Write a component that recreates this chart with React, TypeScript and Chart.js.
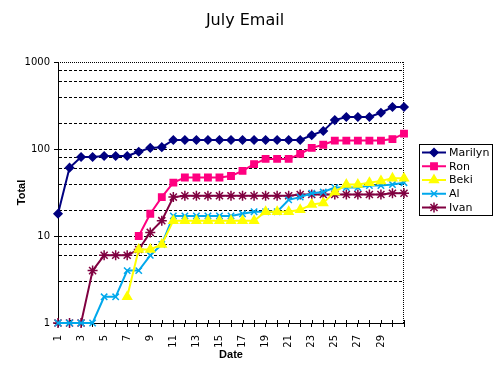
import React, { useEffect, useRef } from 'react';
import { Chart, registerables } from 'chart.js';
import { drawPoint } from 'chart.js/helpers';

Chart.register(...registerables);

const TITLE = 'July Email';
const X_TITLE = 'Date';
const Y_TITLE = 'Total';

const days = ['1','2','3','4','5','6','7','8','9','10','11','12','13','14','15','16','17','18','19','20','21','22','23','24','25','26','27','28','29','30','31'];

const marilyn = [18,61,81,81,83,83,83,93,103,105,127,127,127,127,127,127,127,127,127,127,127,127,144,161,215,233,233,233,261,304,304];
const ron = [null,null,null,null,null,null,null,10,18,28,41,47,47,47,47,49,56,67,77,77,77,88,103,112,125,125,125,125,125,130,150];
const beki = [null,null,null,null,null,null,2,7,7,8,15,15,15,15,15,15,15,15,19,19,19,20,23,24,32,39,39,41,43,46,46];
const al = [1,1,1,1,2,2,4,4,6,8,17,17,17,17,17,17,18,19,19,19,26,28,31,32,36,36,36,38,38,39,41];
const ivan = [1,1,1,4,6,6,6,7,11,15,28,29,29,29,29,29,29,29,29,29,29,30,30,30,30,30,30,30,30,31,31];

const Y_LABELS = [1, 10, 100, 1000];

const decor = {
  id: 'decor',
  beforeDatasetsDraw(chart: any) {
    const { ctx, chartArea: a } = chart;
    const ys = chart.scales.y;
    ctx.save();
    ctx.strokeStyle = '#000';
    ctx.lineWidth = 1;
    ctx.setLineDash([3, 2]);
    ctx.beginPath();
    ys.ticks.forEach((t: any) => {
      if (t.value <= 1 || t.value >= 1000) return;
      const y = Math.round(ys.getPixelForValue(t.value)) + 0.5;
      ctx.moveTo(a.left + 1, y);
      ctx.lineTo(a.right, y);
    });
    ctx.stroke();
    // dotted top/right frame
    ctx.setLineDash([1, 1]);
    ctx.beginPath();
    ctx.moveTo(a.left, Math.round(a.top) + 0.5);
    ctx.lineTo(a.right, Math.round(a.top) + 0.5);
    ctx.moveTo(Math.round(a.right) - 0.5, a.top);
    ctx.lineTo(Math.round(a.right) - 0.5, a.bottom);
    ctx.stroke();
    // tick marks crossing the x axis upward
    ctx.setLineDash([]);
    const xs = chart.scales.x;
    ctx.beginPath();
    for (let i = 0; i < xs.ticks.length; i++) {
      const x = Math.round(xs.getPixelForTick(i)) + 0.5;
      ctx.moveTo(x, a.bottom);
      ctx.lineTo(x, a.bottom - 3);
    }
    ctx.stroke();
    ctx.restore();
  },
  afterDraw(chart: any) {
    const { ctx } = chart;
    ctx.save();
    // title
    ctx.fillStyle = '#000';
    ctx.font = '16px "DejaVu Sans"';
    ctx.textAlign = 'center';
    ctx.textBaseline = 'middle';
    ctx.fillText(TITLE, 245, 21);
    // legend
    const lx = 419, ly = 144, lw = 73, lh = 71;
    ctx.fillStyle = '#fff';
    ctx.fillRect(lx, ly, lw, lh);
    ctx.strokeStyle = '#000';
    ctx.lineWidth = 1;
    ctx.strokeRect(lx + 0.5, ly + 0.5, lw, lh);
    ctx.font = '11px "DejaVu Sans"';
    ctx.textAlign = 'left';
    chart.data.datasets.forEach((ds: any, i: number) => {
      const y = ly + 8.5 + i * 13.75;
      ctx.strokeStyle = ds.borderColor;
      ctx.lineWidth = ds.borderWidth;
      ctx.beginPath();
      ctx.moveTo(422, y);
      ctx.lineTo(446, y);
      ctx.stroke();
      ctx.fillStyle = ds.pointBackgroundColor;
      ctx.strokeStyle = ds.pointBorderColor;
      ctx.lineWidth = ds.pointBorderWidth;
      drawPoint(ctx, { pointStyle: ds.pointStyle, radius: ds.pointRadius, rotation: 0, borderWidth: ds.pointBorderWidth }, 434, y);
      ctx.fillStyle = '#000';
      ctx.fillText(ds.label, 449, y + 0.5);
    });
    ctx.restore();
  },
};

function mk(label: string, data: (number | null)[], color: string, style: string, radius: number, fill: string) {
  return {
    label,
    data,
    borderColor: color,
    backgroundColor: color,
    borderWidth: 2,
    pointStyle: style,
    pointRadius: radius,
    pointBackgroundColor: fill,
    pointBorderColor: color,
    pointBorderWidth: 1.5,
    tension: 0,
    clip: false,
    spanGaps: false,
  };
}

export default function App() {
  const ref = useRef<HTMLCanvasElement>(null);
  useEffect(() => {
    if (!ref.current) return;
    Chart.defaults.font.family = '"DejaVu Sans"';
    Chart.defaults.color = '#000';
    const chart = new Chart(ref.current, {
      type: 'line',
      data: {
        labels: days,
        datasets: [
          mk('Marilyn', marilyn, '#000080', 'rectRot', 4, '#000080'),
          mk('Ron', ron, '#FF0080', 'rect', 4.5, '#FF0080'),
          mk('Beki', beki, '#FFFF00', 'triangle', 5, '#FFFF00'),
          mk('Al', al, '#00A8EC', 'crossRot', 4.5, '#00A8EC'),
          mk('Ivan', ivan, '#800040', 'star', 5, '#800040'),
        ] as any,
      },
      options: {
        animation: false,
        responsive: false,
        devicePixelRatio: 1,
        layout: { padding: { left: 0, right: 96, top: 62, bottom: 0 } },
        plugins: { legend: { display: false }, title: { display: false }, tooltip: { enabled: false } },
        scales: {
          x: {
            type: 'category',
            offset: false,
            afterFit: (s: any) => { s.height = 52; },
            grid: { drawOnChartArea: false, drawTicks: true, tickLength: 4, color: '#000' },
            border: { color: '#000', width: 1 },
            ticks: {
              autoSkip: false,
              maxRotation: 90,
              minRotation: 90,
              padding: 8,
              font: { size: 10 },
              callback: (_v: any, i: number) => (i % 2 === 0 && i < 30 ? days[i] : ''),
            },
            title: {
              display: true,
              text: X_TITLE,
              font: { family: '"Liberation Sans"', weight: 'bold', size: 11 },
              padding: { top: 0, bottom: 13 },
            },
          },
          y: {
            type: 'logarithmic',
            min: 1,
            max: 1000,
            afterFit: (s: any) => { s.width = 58; },
            grid: {
              drawOnChartArea: false,
              drawTicks: true,
              lineWidth: 1,
              tickLength: 4,
              color: '#000',
              tickColor: (c: any) => (c.tick && Y_LABELS.includes(c.tick.value) ? '#000' : 'rgba(0,0,0,0)'),
            },
            border: { color: '#000', width: 1 },
            ticks: {
              padding: 4,
              font: { size: 10 },
              callback: (v: any) => (Y_LABELS.includes(Number(v)) ? String(v) : ''),
            },
            title: {
              display: true,
              text: Y_TITLE,
              font: { family: '"Liberation Sans"', weight: 'bold', size: 11 },
              padding: { top: 15, bottom: 0 },
            },
          },
        },
      } as any,
      plugins: [decor],
    });
    return () => chart.destroy();
  }, []);
  return (
    <div style={{ position: 'fixed', left: 0, top: 0, width: 500, height: 375, background: '#fff' }}>
      <canvas ref={ref} width={500} height={375} style={{ width: 500, height: 375 }} />
    </div>
  );
}
